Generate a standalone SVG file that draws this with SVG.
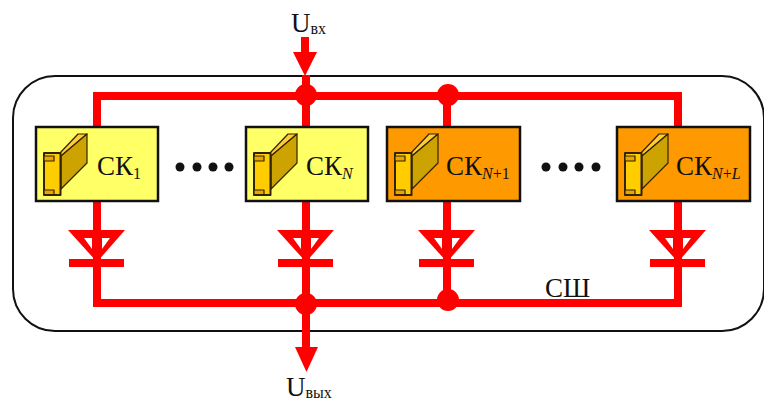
<svg xmlns="http://www.w3.org/2000/svg" width="764" height="402" viewBox="0 0 764 402">
<style>
text{font-family:"Liberation Serif","Times New Roman",serif;fill:#111}
.t{font-size:27px}
.s{font-size:16px}
.i{font-style:italic}
.w{fill:none;stroke:#f00;stroke-width:8}
.b{stroke:#111;stroke-width:2.5}
.y{fill:#ffff66}
.o{fill:#ff9900}
.d{fill:#111}
</style>
<defs>
<g id="card" stroke="#332200" stroke-width="1.2" stroke-linejoin="round">
<path d="M60 153L78 134H87L61 156Z" fill="#ffcc33"/>
<path d="M61 156L87 134V163L61 189Z" fill="#cca300"/>
<path d="M44 153H60.500V195H44Z" fill="#ffcc00" stroke-width="2"/>
<path d="M44 156H54V161H44ZM44 190H54V194.500H44Z" fill="#e6a800"/>
</g>
<g id="diode">
<path d="M-29 230H28L0 262Z M-13 238H-5V249Z M5 238H13L5 249Z" fill="#f00" fill-rule="evenodd"/>
<rect x="-28" y="259" width="55" height="8" fill="#f00"/>
</g>
</defs>
<rect id="bus" x="13" y="76" width="751" height="255" rx="42" fill="none" stroke="#111" stroke-width="2"/>
<g id="connectors">
<path class="w" d="M97 127V96H678V127M97 201V303H678V201M306 75V127M306 201V347M447 96V127M447 201V303"/>
<path class="w" d="M305 37V54"/>
<path d="M293 52H317L305 76Z" fill="#f00"/>
<path d="M295 347H318L306.500 372Z" fill="#f00"/>
<circle cx="306" cy="95" r="11" fill="#f00"/>
<circle cx="448" cy="95" r="11" fill="#f00"/>
<circle cx="306" cy="304" r="11" fill="#f00"/>
<circle cx="448" cy="300" r="11" fill="#f00"/>
</g>
<g id="d1"><use href="#diode" x="97"/></g>
<g id="d2"><use href="#diode" x="306"/></g>
<g id="d3"><use href="#diode" x="447"/></g>
<g id="d4"><use href="#diode" x="678"/></g>
<g id="sk1">
<rect class="b y" x="36" y="127" width="122" height="74"/>
<use href="#card"/>
<text class="t" x="97" y="175">СК<tspan class="s" dy="4">1</tspan></text>
</g>
<g id="skN">
<rect class="b y" x="246" y="127" width="122" height="74"/>
<use href="#card" x="210"/>
<text class="t" x="306" y="175">СК<tspan class="s i" dy="4">N</tspan></text>
</g>
<g id="skN1">
<rect class="b o" x="387" y="127" width="133" height="74"/>
<use href="#card" x="351"/>
<text class="t" x="446" y="175">СК<tspan class="s i" dy="4">N</tspan><tspan class="s">+1</tspan></text>
</g>
<g id="skNL">
<rect class="b o" x="617" y="127" width="133" height="74"/>
<use href="#card" x="581"/>
<text class="t" x="676" y="175">СК<tspan class="s i" dy="4">N</tspan><tspan class="s">+</tspan><tspan class="s i">L</tspan></text>
</g>
<g id="dots">
<circle class="d" cx="180" cy="167" r="4.500"/><circle class="d" cx="197" cy="167" r="4.500"/><circle class="d" cx="213" cy="167" r="4.500"/><circle class="d" cx="229" cy="167" r="4.500"/>
<circle class="d" cx="546" cy="167" r="4.500"/><circle class="d" cx="563" cy="167" r="4.500"/><circle class="d" cx="579" cy="167" r="4.500"/><circle class="d" cx="596" cy="167" r="4.500"/>
</g>
<text class="t" x="291" y="32">U<tspan class="s" dy="2">вх</tspan></text>
<text class="t" x="286" y="396">U<tspan class="s" dy="2">вых</tspan></text>
<text class="t" x="545" y="297">СШ</text>
</svg>
